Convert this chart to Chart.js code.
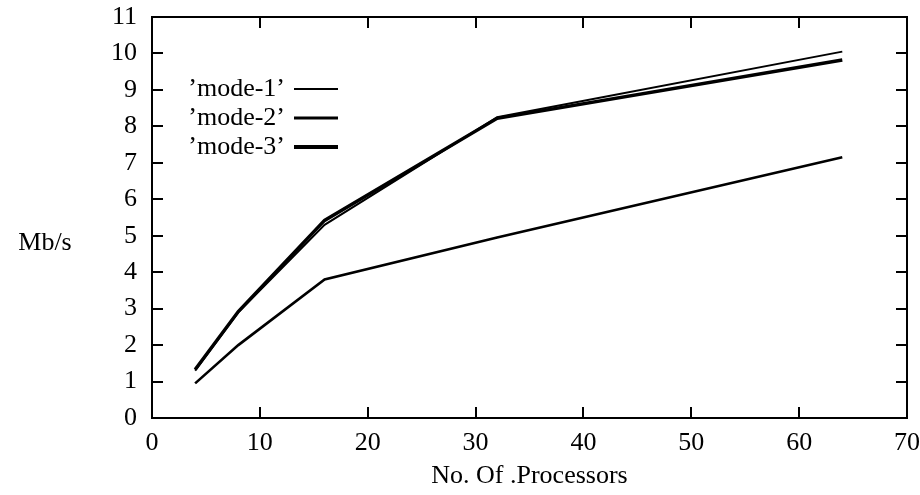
<!DOCTYPE html>
<html><head><meta charset="utf-8">
<script src="https://cdn.jsdelivr.net/npm/chart.js@4/dist/chart.umd.min.js"></script>
<style>html,body{margin:0;padding:0;background:#fff}#wrap{width:920px;height:495px;position:relative}</style>
</head><body><div id="wrap"><canvas id="c" width="920" height="495"></canvas></div>
<script>
const processors = [4, 8, 16, 32, 64];
const mode1 = [1.3, 2.9, 5.3, 8.25, 10.05];
const mode2 = [0.95, 2.0, 3.8, 4.95, 7.15];
const mode3 = [1.33, 2.92, 5.42, 8.22, 9.82];
const seriesLabels = ["\u2019mode-1\u2019", "\u2019mode-2\u2019", "\u2019mode-3\u2019"];
const xTickValues = [0, 10, 20, 30, 40, 50, 60, 70];
const yTickValues = [0, 1, 2, 3, 4, 5, 6, 7, 8, 9, 10, 11];
const xTitle = "No. Of .Processors";
const yTitle = "Mb/s";

const FONT = "Liberation Serif";
const FSIZE = 26;
const pts = arr => processors.map((x, i) => ({x: x, y: arr[i]}));
const widths = [2, 2.6, 3.4];

const frame = {
  id: 'frame',
  afterDraw(chart) {
    const {ctx, chartArea: a, scales: {x, y}} = chart;
    ctx.save();
    ctx.strokeStyle = '#000';
    ctx.lineWidth = 2;
    ctx.strokeRect(a.left, a.top, a.right - a.left, a.bottom - a.top);
    const tl = 11;
    ctx.beginPath();
    xTickValues.forEach(v => {
      const px = Math.round(x.getPixelForValue(v));
      ctx.moveTo(px, a.bottom); ctx.lineTo(px, a.bottom - tl);
      ctx.moveTo(px, a.top); ctx.lineTo(px, a.top + tl);
    });
    yTickValues.forEach(v => {
      const py = Math.round(y.getPixelForValue(v));
      ctx.moveTo(a.left, py); ctx.lineTo(a.left + tl, py);
      ctx.moveTo(a.right, py); ctx.lineTo(a.right - tl, py);
    });
    ctx.stroke();
    ctx.fillStyle = '#000';
    ctx.font = FSIZE + 'px "' + FONT + '"';
    ctx.textAlign = 'center';
    ctx.textBaseline = 'middle';
    ctx.fillText(yTitle, 45, 243);
    const rows = [89, 118, 147];
    const lw = [2, 3, 4];
    chart.data.datasets.forEach((ds, i) => {
      ctx.textAlign = 'right';
      ctx.fillText(ds.label, 285, rows[i]);
      ctx.beginPath();
      ctx.lineWidth = lw[i];
      ctx.moveTo(294, rows[i]); ctx.lineTo(338, rows[i]);
      ctx.stroke();
    });
    ctx.restore();
  }
};

new Chart(document.getElementById('c'), {
  type: 'line',
  data: {
    datasets: [
      {label: seriesLabels[0], data: pts(mode1), borderColor: '#000', borderWidth: widths[0], pointRadius: 0, tension: 0, fill: false},
      {label: seriesLabels[1], data: pts(mode2), borderColor: '#000', borderWidth: widths[1], pointRadius: 0, tension: 0, fill: false},
      {label: seriesLabels[2], data: pts(mode3), borderColor: '#000', borderWidth: widths[2], pointRadius: 0, tension: 0, fill: false}
    ]
  },
  options: {
    responsive: false,
    animation: false,
    devicePixelRatio: 1,
    layout: {padding: {left: 0, top: 17, right: 13, bottom: 0}},
    plugins: {legend: {display: false}, tooltip: {enabled: false}},
    scales: {
      x: {
        type: 'linear', min: 0, max: 70,
        afterBuildTicks: s => { s.ticks = xTickValues.map(v => ({value: v})); },
        afterFit: s => { s.height = 77; s.paddingLeft = 0; s.paddingRight = 0; },
        grid: {display: false, drawTicks: false},
        border: {display: false},
        ticks: {color: '#000', font: {family: FONT, size: FSIZE}, padding: 10, maxRotation: 0, autoSkip: false},
        title: {display: true, text: xTitle, color: '#000', font: {family: FONT, size: FSIZE}, padding: {top: 0, bottom: 3}}
      },
      y: {
        type: 'linear', min: 0, max: 11,
        afterBuildTicks: s => { s.ticks = yTickValues.map(v => ({value: v})); },
        afterFit: s => { s.width = 152; s.paddingTop = 0; s.paddingBottom = 0; },
        grid: {display: false, drawTicks: false},
        border: {display: false},
        ticks: {color: '#000', font: {family: FONT, size: FSIZE}, padding: 15, autoSkip: false}
      }
    }
  },
  plugins: [frame]
});
</script></body></html>
